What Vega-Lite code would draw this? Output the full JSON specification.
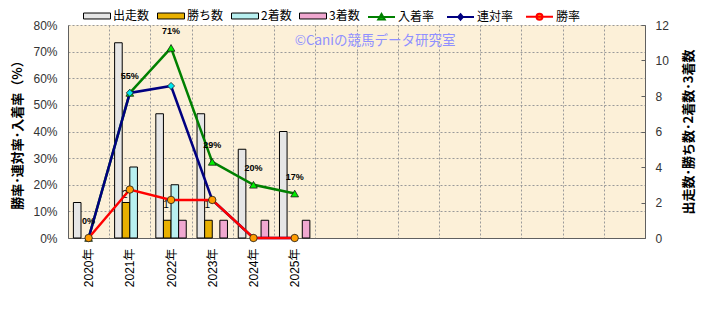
{
  "$schema": "https://vega.github.io/schema/vega-lite/v6.json",
  "width": 577,
  "height": 213,
  "autosize": {"type": "none"},
  "padding": {"left": 68, "top": 25, "right": 69, "bottom": 72},
  "background": "#ffffff",
  "config": {
    "view": {"fill": "#fcf0d8", "stroke": null},
    "font": "Liberation Sans, Noto Sans CJK JP",
    "axisRight": {"titleAngle": 270}
  },
  "datasets": {
    "bars": [
      {"year": "2020年", "series": "出走数", "count": 2},
      {"year": "2021年", "series": "出走数", "count": 11},
      {"year": "2021年", "series": "勝ち数", "count": 2},
      {"year": "2021年", "series": "2着数", "count": 4},
      {"year": "2022年", "series": "出走数", "count": 7},
      {"year": "2022年", "series": "勝ち数", "count": 1},
      {"year": "2022年", "series": "2着数", "count": 3},
      {"year": "2022年", "series": "3着数", "count": 1},
      {"year": "2023年", "series": "出走数", "count": 7},
      {"year": "2023年", "series": "勝ち数", "count": 1},
      {"year": "2023年", "series": "3着数", "count": 1},
      {"year": "2024年", "series": "出走数", "count": 5},
      {"year": "2024年", "series": "3着数", "count": 1},
      {"year": "2025年", "series": "出走数", "count": 6},
      {"year": "2025年", "series": "3着数", "count": 1}
    ],
    "rates": [
      {"year": "2020年", "series": "入着率", "rate": 0},
      {"year": "2021年", "series": "入着率", "rate": 0.545},
      {"year": "2022年", "series": "入着率", "rate": 0.714},
      {"year": "2023年", "series": "入着率", "rate": 0.286},
      {"year": "2024年", "series": "入着率", "rate": 0.2},
      {"year": "2025年", "series": "入着率", "rate": 0.167},
      {"year": "2020年", "series": "連対率", "rate": 0},
      {"year": "2021年", "series": "連対率", "rate": 0.545},
      {"year": "2022年", "series": "連対率", "rate": 0.571},
      {"year": "2023年", "series": "連対率", "rate": 0.143},
      {"year": "2024年", "series": "連対率", "rate": 0},
      {"year": "2025年", "series": "連対率", "rate": 0},
      {"year": "2020年", "series": "勝率", "rate": 0},
      {"year": "2021年", "series": "勝率", "rate": 0.182},
      {"year": "2022年", "series": "勝率", "rate": 0.143},
      {"year": "2023年", "series": "勝率", "rate": 0.143},
      {"year": "2024年", "series": "勝率", "rate": 0},
      {"year": "2025年", "series": "勝率", "rate": 0}
    ],
    "winLabels": [
      {"year": "2021年", "rate": 0.182, "label": "2"},
      {"year": "2022年", "rate": 0.143, "label": "1"},
      {"year": "2023年", "rate": 0.143, "label": "1"}
    ]
  },
  "encoding": {
    "x": {
      "field": "year",
      "type": "nominal",
      "scale": {
        "domain": ["2020年", "2021年", "2022年", "2023年", "2024年", "2025年", "c7", "c8", "c9", "c10", "c11", "c12", "c13", "c14"],
        "paddingInner": 0,
        "paddingOuter": 0
      },
      "axis": {
        "title": null,
        "labelAngle": -90,
        "labelPadding": 10,
        "labelFontSize": 12,
        "labelColor": "#000000",
        "labelExpr": "indexof(datum.label, '年') >= 0 ? datum.label : ''",
        "ticks": false,
        "domainColor": "#606060",
        "grid": true,
        "gridColor": "#9a9a9a",
        "gridDash": [2, 2],
        "tickBand": "extent"
      }
    }
  },
  "resolve": {"scale": {"y": "independent"}, "axis": {"y": "independent"}},
  "layer": [
    {
      "layer": [
        {
          "data": {"name": "winLabels"},
          "mark": {"type": "text", "fontSize": 10, "dx": -5, "dy": 5, "color": "#000000"},
          "encoding": {
            "y": {"field": "rate", "type": "quantitative", "scale": {"domain": [0, 0.8]}, "axis": null},
            "text": {"field": "label"}
          }
        },
        {
          "data": {"values": [{}]},
          "mark": {"type": "text", "align": "left", "baseline": "middle", "fontSize": 13.5, "color": "#9090ff", "font": "Noto Sans CJK JP"},
          "encoding": {
            "x": {
              "datum": "2025年",
              "type": "nominal",
              "scale": {
                "domain": ["2020年", "2021年", "2022年", "2023年", "2024年", "2025年", "c7", "c8", "c9", "c10", "c11", "c12", "c13", "c14"],
                "paddingInner": 0,
                "paddingOuter": 0
              },
              "axis": {
                "title": null,
                "labelAngle": -90,
                "labelPadding": 10,
                "labelFontSize": 12,
                "labelColor": "#000000",
                "labelExpr": "indexof(datum.label, '年') >= 0 ? datum.label : ''",
                "ticks": false,
                "domainColor": "#606060",
                "grid": true,
                "gridColor": "#9a9a9a",
                "gridDash": [2, 2],
                "tickBand": "extent"
              }
            },
            "y": {"datum": 0.74, "type": "quantitative", "scale": {"domain": [0, 0.8]}, "axis": null},
            "text": {"value": "©Caniの競馬データ研究室"}
          }
        }
      ]
    },
    {
      "data": {"name": "bars"},
      "mark": {"type": "bar", "stroke": "#000000", "strokeWidth": 1},
      "encoding": {
        "xOffset": {
          "field": "series",
          "type": "nominal",
          "scale": {"domain": ["出走数", "勝ち数", "2着数", "3着数"], "paddingInner": 0, "paddingOuter": 0.71}
        },
        "y": {
          "field": "count",
          "type": "quantitative",
          "scale": {"domain": [0, 12]},
          "axis": {
            "orient": "right",
            "title": "出走数･勝ち数･2着数･3着数",
            "values": [0, 2, 4, 6, 8, 10, 12],
            "grid": false,
            "ticks": true,
            "tickSize": -4,
            "tickColor": "#606060",
            "labelPadding": 14,
            "labelFontSize": 12,
            "labelColor": "#333333",
            "domainColor": "#606060",
            "titleAngle": 270,
            "titleBaseline": "middle",
            "titleFont": "Noto Sans CJK JP",
            "titleFontSize": 13,
            "titleFontWeight": "bold",
            "titleColor": "#000000",
            "titlePadding": 20
          }
        },
        "color": {
          "field": "series",
          "type": "nominal",
          "scale": {"domain": ["出走数", "勝ち数", "2着数", "3着数"], "range": ["#e6e6e6", "#e8b000", "#b8f0f0", "#f0a8d0"]},
          "legend": {
            "orient": "none",
            "legendX": 15,
            "legendY": -23,
            "direction": "horizontal",
            "columns": 4,
            "title": null,
            "padding": 0,
            "symbolType": "M-1,-0.22H1V0.22H-1Z",
            "symbolSize": 729,
            "symbolStrokeColor": "#000000",
            "symbolStrokeWidth": 1,
            "labelFont": "Noto Sans CJK JP",
            "labelFontSize": 12,
            "labelColor": "#000000",
            "labelOffset": 2,
            "columnPadding": 5
          }
        }
      }
    },
    {
      "data": {"name": "rates"},
      "encoding": {
        "y": {
          "field": "rate",
          "type": "quantitative",
          "scale": {"domain": [0, 0.8]},
          "axis": {
            "orient": "left",
            "title": "勝率･連対率･入着率（%）",
            "values": [0, 0.1, 0.2, 0.3, 0.4, 0.5, 0.6, 0.7, 0.8],
            "format": ".0%",
            "grid": true,
            "gridColor": "#9a9a9a",
            "gridDash": [2, 2],
            "ticks": false,
            "labelPadding": 11,
            "labelFontSize": 12,
            "labelColor": "#333333",
            "domainColor": "#606060",
            "titleAngle": 270,
            "titleBaseline": "middle",
            "titleFont": "Noto Sans CJK JP",
            "titleFontSize": 13,
            "titleFontWeight": "bold",
            "titleColor": "#000000",
            "titlePadding": 15
          }
        }
      },
      "layer": [
        {
          "mark": {"type": "line", "strokeWidth": 2.5},
          "encoding": {
            "stroke": {
              "field": "series",
              "type": "nominal",
              "scale": {"domain": ["入着率", "連対率", "勝率"], "range": ["#008000", "#000080", "#ff0000"]},
              "legend": {
                "orient": "none", "legendX": 299, "legendY": -23, "direction": "horizontal", "columns": 3,
                "title": null, "padding": 0, "symbolSize": 729, "symbolStrokeWidth": 2,
                "labelFont": "Noto Sans CJK JP", "labelFontSize": 12, "labelColor": "#000000", "labelOffset": 2, "columnPadding": 8
              }
            }
          }
        },
        {
          "mark": {"type": "point", "filled": true, "size": 1, "strokeWidth": 2, "opacity": 1},
          "encoding": {
            "shape": {
              "field": "series",
              "type": "nominal",
              "scale": {
                "domain": ["入着率", "連対率", "勝率"],
                "range": ["M-1,0H1M-0.24,0.2L0,-0.22L0.24,0.2Z", "M-1,0H1M0,-0.2L0.17,0L0,0.2L-0.17,0Z", "M-1,0H1M0.22,0A0.22,0.22,0,1,1,-0.22,0A0.22,0.22,0,1,1,0.22,0Z"]
              },
              "legend": {
                "orient": "none", "legendX": 299, "legendY": -23, "direction": "horizontal", "columns": 3,
                "title": null, "padding": 0, "symbolSize": 729, "symbolStrokeWidth": 2,
                "labelFont": "Noto Sans CJK JP", "labelFontSize": 12, "labelColor": "#000000", "labelOffset": 2, "columnPadding": 8
              }
            },
            "fill": {
              "field": "series",
              "type": "nominal",
              "scale": {"domain": ["入着率", "連対率", "勝率"], "range": ["#00ee00", "#00e8f0", "#ff9c00"]},
              "legend": {
                "orient": "none", "legendX": 299, "legendY": -23, "direction": "horizontal", "columns": 3,
                "title": null, "padding": 0, "symbolSize": 729, "symbolStrokeWidth": 2,
                "labelFont": "Noto Sans CJK JP", "labelFontSize": 12, "labelColor": "#000000", "labelOffset": 2, "columnPadding": 8
              }
            }
          }
        },
        {
          "transform": [{"filter": "datum.series === '入着率'"}],
          "mark": {"type": "point", "shape": "triangle-up", "filled": true, "size": 60, "fill": "#00ee00", "stroke": "#1a1a1a", "strokeWidth": 0.8, "opacity": 1}
        },
        {
          "transform": [{"filter": "datum.series === '連対率'"}],
          "mark": {"type": "point", "shape": "diamond", "filled": true, "size": 50, "fill": "#00e8f0", "stroke": "#1a1a1a", "strokeWidth": 0.8, "opacity": 1}
        },
        {
          "transform": [{"filter": "datum.series === '勝率'"}],
          "mark": {"type": "point", "shape": "circle", "filled": true, "size": 55, "fill": "#ff9c00", "stroke": "#1a1a1a", "strokeWidth": 0.8, "opacity": 1}
        },
        {
          "transform": [{"filter": "datum.series === '入着率'"}],
          "mark": {"type": "text", "fontSize": 9, "fontWeight": "bold", "dy": -17, "color": "#000000"},
          "encoding": {"text": {"field": "rate", "format": ".0%"}}
        }
      ]
    }
  ]
}
